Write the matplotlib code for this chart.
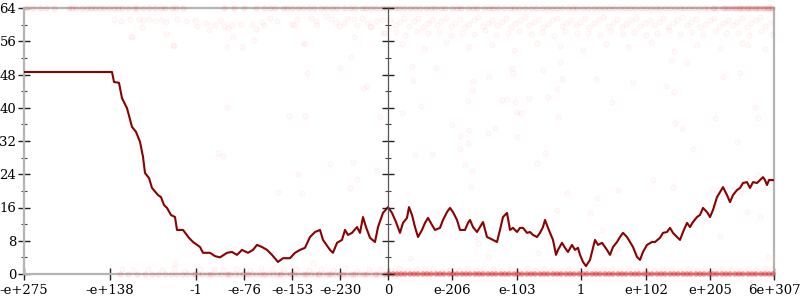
import matplotlib
matplotlib.use("Agg")
import matplotlib.pyplot as plt
from matplotlib.ticker import MultipleLocator

plt.rcParams['font.family'] = ['DejaVu Serif']

# ---- axis labels (positions on an ordinal 0..750 scale) ----
xtick_pos = [0, 86, 172, 220, 268, 316, 364, 428, 493, 557, 622, 686, 750]
xtick_labels = ["-e+275", "-e+138", "-1", "-e-76", "-e-153", "-e-230", "0",
                "e-206", "e-103", "1", "e+102", "e+205", "6e+307"]
center_pos = 364

# ---- averaged error line ----
line_pts = [(0, 48.6), (88, 48.6), (90, 46.2), (95, 46.0), (98, 42.3), (103, 39.9),
            (108, 35.4), (112, 34.2), (116, 31.8), (119, 28.2), (121, 24.3),
            (125, 23.1), (128, 20.7), (134, 19.0), (137, 18.5), (140, 16.6),
            (143, 15.9), (147, 14.2), (151, 13.7), (153, 10.6), (159, 10.6),
            (165, 8.7), (169, 7.7), (176, 6.5), (179, 5.1), (186, 5.1), (191, 4.3),
            (196, 4.0), (203, 5.1), (208, 5.3), (213, 4.6), (218, 5.8), (224, 5.1),
            (229, 5.8), (233, 7.0), (238, 6.5), (243, 5.8), (248, 4.6), (254, 2.9),
            (259, 3.8), (266, 3.8), (271, 5.1), (276, 5.8), (281, 6.3), (286, 8.9),
            (291, 10.1), (296, 10.6), (299, 8.2), (306, 5.8), (309, 5.1), (313, 7.5),
            (318, 8.2), (321, 10.6), (324, 9.4), (328, 9.9), (333, 11.3), (336, 9.9),
            (339, 13.7), (342, 11.3), (346, 8.7), (351, 7.7), (354, 11.3),
            (359, 14.7), (364, 16.1), (368, 14.7), (372, 12.5), (376, 9.9),
            (379, 12.3), (383, 13.5), (385, 16.1), (388, 14.2), (391, 11.3),
            (394, 8.9), (398, 10.6), (401, 12.3), (404, 13.5), (408, 11.8),
            (411, 10.6), (416, 11.1), (419, 13.0), (423, 14.9), (426, 15.9),
            (429, 14.9), (433, 13.0), (436, 10.6), (441, 10.6), (444, 12.3),
            (446, 13.0), (449, 11.3), (453, 10.1), (456, 11.3), (459, 12.5),
            (463, 8.9), (469, 8.2), (473, 7.7), (476, 10.6), (479, 13.7), (483, 14.7),
            (486, 10.6), (489, 11.1), (493, 10.1), (496, 11.1), (499, 11.1),
            (503, 9.9), (506, 10.1), (509, 9.4), (513, 8.9), (516, 9.9), (519, 11.3),
            (521, 13.0), (524, 11.1), (529, 8.2), (532, 4.6), (534, 5.8), (538, 7.5),
            (541, 6.3), (544, 5.3), (548, 7.0), (551, 5.8), (554, 6.3), (556, 4.6),
            (559, 2.9), (562, 1.9), (566, 3.4), (569, 6.3), (571, 8.2), (574, 7.0),
            (578, 7.5), (583, 5.8), (586, 4.6), (589, 6.5), (593, 7.7), (596, 8.9),
            (599, 9.9), (603, 8.9), (606, 7.7), (609, 6.5), (613, 4.1), (616, 3.4),
            (619, 5.3), (623, 7.0), (628, 7.7), (631, 7.7), (636, 8.7), (639, 9.9),
            (643, 10.1), (646, 11.1), (649, 9.9), (653, 8.9), (656, 8.2),
            (659, 10.1), (663, 12.3), (666, 11.3), (669, 12.5), (673, 13.7),
            (676, 14.2), (679, 15.9), (683, 14.9), (686, 13.7), (689, 15.4),
            (693, 18.5), (696, 19.7), (699, 20.9), (703, 19.0), (706, 17.3),
            (709, 19.0), (713, 20.2), (716, 20.7), (719, 21.9), (723, 22.1),
            (726, 20.7), (729, 22.1), (733, 21.9), (736, 22.6), (739, 23.3),
            (741, 22.6), (743, 21.4), (745, 22.6), (750, 22.6)]

# ---- individual sample points ----
top_exact_x = [3, 9, 16, 22, 30, 45, 48, 52, 58, 63, 67, 71, 76, 80, 85, 90, 94,
               98, 104, 110, 113, 119, 125, 131, 137, 141, 148, 152, 159, 200, 210,
               220, 232, 240, 246, 251, 259, 263, 268, 274, 279, 285, 290, 297, 302,
               308, 313, 320, 326, 331, 338, 342, 347, 352, 358, 362]
top_exact_right_x = [366, 371, 375, 380, 386, 391, 396, 402, 407, 411, 417, 421,
                     428, 433, 437, 444, 449, 453, 460, 465, 469, 474, 480, 486, 490,
                     495, 501, 507, 512, 518, 523, 528, 533, 538, 544, 549, 553, 559,
                     564, 570, 575, 580, 585, 590, 596, 601, 606, 611, 617, 622, 627,
                     632, 636, 641, 646, 651, 656, 660, 665, 670, 675, 680, 684, 689,
                     694, 699, 703, 708, 712, 716, 720, 724, 728, 732, 736, 740, 744,
                     748, 690, 700, 710, 718, 726, 734, 742, 747, 705, 715, 723, 731,
                     739, 745]

top_left_pts = [(90, 61.3), (97, 60.9), (106, 61.3), (115, 61.3), (119, 61.0),
                (125, 61.3), (131, 60.8), (137, 61.0), (142, 60.6), (153, 61.3),
                (162, 60.9), (171, 61.0), (173, 59.7), (182, 60.3), (185, 58.7),
                (191, 60.0), (196, 61.0), (200, 59.6), (204, 59.3), (208, 60.0),
                (209, 57.0), (217, 60.1), (218, 54.6), (228, 60.2), (232, 59.0),
                (238, 60.6), (240, 59.8), (246, 61.6), (253, 60.8), (268, 60.2),
                (270, 59.8), (273, 61.3), (281, 55.3), (287, 61.7), (292, 60.9),
                (293, 59.9), (302, 62.0), (307, 61.4), (312, 60.7), (315, 59.6),
                (320, 60.4), (323, 61.5), (330, 61.3), (330, 57.0), (333, 59.8),
                (338, 61.5), (343, 60.4), (346, 59.7), (347, 59.4), (353, 60.9),
                (359, 61.0), (361, 57.9), (107, 57.0), (118, 59.4), (142, 57.7),
                (150, 54.8), (203, 54.6), (149, 55.1), (108, 57.3), (279, 55.6),
                (230, 56.3), (359, 58.0)]

top_right_pts = [(366, 61.1), (371, 59.8), (376, 60.6), (380, 61.5), (385, 59.6),
                 (390, 60.9), (394, 61.7), (399, 59.5), (404, 60.3), (408, 61.2),
                 (413, 59.9), (417, 60.8), (422, 61.6), (427, 59.7), (431, 60.5),
                 (436, 61.3), (441, 59.4), (445, 60.2), (450, 61.0), (454, 61.8),
                 (459, 59.6), (464, 60.4), (468, 61.2), (473, 59.9), (478, 60.7),
                 (482, 61.5), (487, 59.5), (491, 60.3), (496, 61.1), (501, 61.9),
                 (505, 59.8), (510, 60.6), (515, 61.4), (519, 59.4), (524, 60.2),
                 (528, 61.0), (533, 61.7), (538, 59.6), (542, 60.4), (547, 61.2),
                 (552, 59.9), (556, 60.7), (561, 61.5), (565, 59.5), (570, 60.3),
                 (575, 61.1), (579, 61.8), (584, 59.7), (589, 60.5), (593, 61.3),
                 (598, 59.4), (602, 60.2), (607, 61.0), (612, 61.6), (616, 59.6),
                 (621, 60.4), (626, 61.2), (630, 59.9), (635, 60.7), (639, 61.5),
                 (644, 59.5), (649, 60.3), (653, 61.1), (658, 61.9), (663, 59.8),
                 (667, 60.6), (672, 61.4), (676, 59.4), (681, 60.2), (686, 61.0),
                 (690, 61.7), (695, 59.6), (700, 60.4), (704, 61.2), (709, 59.9),
                 (713, 60.7), (718, 61.5), (723, 59.5), (727, 60.3), (732, 61.1),
                 (736, 61.8), (741, 59.7), (746, 60.5),
                 (372, 58.2), (381, 57.6), (393, 58.5), (404, 57.9), (415, 58.3),
                 (427, 57.4), (438, 58.1), (450, 57.8), (461, 58.6), (472, 57.5),
                 (484, 58.0), (495, 58.4), (507, 57.7), (518, 58.2), (530, 57.3),
                 (541, 58.5), (553, 57.9), (564, 58.1), (576, 57.6), (587, 58.4),
                 (599, 57.8), (610, 58.3), (622, 57.5), (633, 58.0), (645, 58.6),
                 (656, 57.7), (668, 58.2), (679, 57.4), (691, 58.5), (702, 57.9),
                 (714, 58.1), (725, 57.6), (737, 58.4), (748, 57.8),
                 (378, 55.4), (400, 54.2), (422, 55.8), (445, 54.6), (468, 55.1),
                 (490, 53.8), (513, 55.5), (536, 54.9), (559, 54.0), (582, 55.3),
                 (604, 54.5), (627, 55.7), (650, 53.6), (673, 55.0), (696, 54.4),
                 (718, 55.6), (741, 54.1)]

mid_pts = [(388, 50.0), (389, 46.7), (397, 40.4), (378, 38.7), (412, 49.6),
           (428, 35.8), (436, 33.2), (445, 34.6), (444, 31.5), (444, 41.6),
           (448, 44.3), (449, 46.4), (465, 47.4), (464, 33.9), (471, 35.1),
           (478, 41.9), (483, 42.1), (488, 49.6), (489, 48.4), (491, 41.4),
           (493, 39.0), (493, 33.0), (497, 38.7), (505, 42.3), (519, 49.1),
           (524, 42.6), (533, 44.5), (534, 37.8), (536, 51.0), (538, 46.9),
           (572, 46.9), (588, 41.4), (609, 46.2), (642, 45.2), (647, 51.5),
           (650, 43.8), (651, 36.3), (658, 35.1), (663, 50.8), (691, 37.5),
           (699, 47.4), (716, 48.4), (713, 31.8), (731, 40.2), (734, 37.5),
           (724, 55.1), (203, 40.2), (265, 38.0), (281, 38.0), (283, 48.4),
           (316, 49.6), (327, 52.2), (339, 44.7), (343, 45.2), (356, 37.8),
           (194, 29.1), (199, 28.4), (274, 24.0), (254, 19.7), (278, 19.5),
           (306, 26.5), (329, 27.0), (333, 22.9), (326, 20.7), (353, 25.0),
           (289, 2.6), (151, 2.6), (369, 12.5), (391, 28.6), (408, 28.9),
           (436, 30.0), (441, 26.2), (448, 24.8), (447, 20.9), (454, 7.5),
           (464, 4.1), (386, 3.8), (514, 5.1), (513, 26.7), (521, 29.1),
           (533, 15.4), (543, 19.5), (553, 5.1), (566, 14.7), (573, 18.3),
           (594, 20.2), (578, 10.6), (594, 6.0), (629, 22.6), (649, 20.9),
           (669, 30.0), (688, 20.2), (716, 19.7), (723, 14.9), (736, 13.7),
           (734, 23.8), (696, 9.2), (744, 4.1)]

zero_x = [96, 104, 113, 121, 128, 134, 141, 147, 152, 158, 163, 169, 174, 178, 183,
          188, 193, 197, 202, 206, 211, 215, 219, 224, 228, 232, 236, 241, 245, 249,
          253, 257, 262, 266, 270, 274, 279, 283, 287, 291, 295, 299, 303, 307, 311,
          315, 319, 323, 327, 331, 335, 339, 343, 347, 351, 355, 359, 362,
          171, 186, 204, 222, 239, 256, 268, 281, 294, 305, 318, 329, 341, 352, 361]
zero_right_x = [365, 369, 373, 377, 381, 386, 390, 394, 399, 403, 407, 412, 416,
                420, 425, 429, 433, 438, 442, 446, 451, 455, 459, 464, 468, 472, 477,
                481, 485, 490, 494, 498, 503, 507, 511, 516, 520, 524, 529, 533, 537,
                542, 546, 550, 555, 559, 563, 568, 572, 576, 581, 585, 589, 594, 598,
                602, 607, 611, 615, 620, 624, 628, 633, 637, 641, 646, 650, 654, 659,
                663, 667, 672, 676, 680, 685, 689, 693, 698, 702, 706, 711, 715, 719,
                724, 728, 732, 737, 741, 745, 749]
low_pts = [(98, 1.2), (109, 0.9), (124, 1.3), (138, 1.0), (150, 1.4), (161, 0.8),
           (176, 1.1), (190, 1.3), (199, 0.9), (212, 1.2), (226, 1.0), (237, 1.4),
           (248, 0.8), (259, 1.1), (272, 1.3), (285, 0.9), (297, 1.2), (309, 1.0),
           (321, 1.4), (333, 0.8), (345, 1.1), (356, 1.3), (367, 1.0), (375, 1.4),
           (384, 0.9), (392, 1.2), (401, 1.1), (409, 1.3), (418, 0.8), (426, 1.2),
           (435, 1.0), (443, 1.4), (452, 0.9), (460, 1.1), (469, 1.3), (477, 0.8),
           (486, 1.2), (494, 1.0), (503, 1.4), (511, 0.9), (520, 1.1), (528, 1.3),
           (537, 0.8), (545, 1.2), (554, 1.0), (562, 1.4), (571, 0.9), (579, 1.1),
           (588, 1.3), (596, 0.8), (605, 1.2), (613, 1.0), (622, 1.4), (630, 0.9),
           (639, 1.1), (647, 1.3), (656, 0.8), (664, 1.2), (673, 1.0), (681, 1.4),
           (690, 0.9), (698, 1.1), (707, 1.3), (715, 0.8), (724, 1.2), (732, 1.0),
           (741, 1.4), (748, 1.1)]


def unzip(pts):
    return [p[0] for p in pts], [p[1] for p in pts]


# ---- figure ----
fig = plt.figure(figsize=(8, 3), dpi=100)
ax = fig.add_axes([24/800, 1-274/300, 750/800, 266/300])

faint = dict(s=14, facecolors=(1, 0, 0, 0.025), edgecolors=(1, 0, 0, 0.05),
             linewidths=0.6, clip_on=False, zorder=3)
light = dict(s=14, facecolors=(1, 0, 0, 0.07), edgecolors=(1, 0, 0, 0.09),
             linewidths=0.6, clip_on=False, zorder=3)
strong = dict(s=16, facecolors=(0.95, 0.1, 0.1, 0.45), edgecolors='none',
              clip_on=False, zorder=3)

ax.scatter(top_exact_x, [64]*len(top_exact_x), **light)
ax.scatter(top_exact_right_x, [64]*len(top_exact_right_x), **light)
ax.scatter(*unzip(top_left_pts), **faint)
ax.scatter(*unzip(top_right_pts), **faint)
ax.scatter(*unzip(mid_pts), **faint)
ax.scatter(zero_x, [0]*len(zero_x), **light)
ax.scatter(zero_right_x, [0]*len(zero_right_x), **strong)
ax.scatter(*unzip(low_pts), **faint)

lx, ly = unzip(line_pts)
ax.plot(lx, ly, color='#8b0000', lw=1.5, zorder=4)

ax.set_xlim(0, 750)
ax.set_ylim(0, 64)
ax.set_xticks(xtick_pos)
ax.set_xticklabels(xtick_labels)
ax.yaxis.set_major_locator(MultipleLocator(8))
ax.yaxis.set_minor_locator(MultipleLocator(4))
ax.yaxis.set_ticks_position('both')

grey = '#b4b4b4'
for side in ['left', 'bottom', 'top', 'right']:
    ax.spines[side].set_color(grey)
    ax.spines[side].set_linewidth(1.6)
    ax.spines[side].set_zorder(2)

ax.tick_params(axis='y', which='major', direction='inout', length=9, width=1.0,
               color='#222222', labelsize=9.5, pad=1)
ax.tick_params(axis='y', which='minor', direction='inout', length=5, width=0.8,
               color='#444444')
ax.tick_params(axis='x', which='major', direction='inout', length=9, width=1.0,
               color='#222222', labelsize=9.5, pad=3)

# center axis
ax2 = ax.twinx()
ax2.set_ylim(0, 64)
for side in ['left', 'bottom', 'top']:
    ax2.spines[side].set_visible(False)
ax2.spines['right'].set_position(('data', center_pos))
ax2.spines['right'].set_color('#555555')
ax2.spines['right'].set_linewidth(0.9)
ax2.yaxis.set_major_locator(MultipleLocator(8))
ax2.yaxis.set_minor_locator(MultipleLocator(4))
ax2.tick_params(axis='y', which='major', direction='inout', length=9, width=1.0,
                color='#222222', labelright=False)
ax2.tick_params(axis='y', which='minor', direction='inout', length=5, width=0.8,
                color='#444444')

fig.savefig('out.png', dpi=100)
